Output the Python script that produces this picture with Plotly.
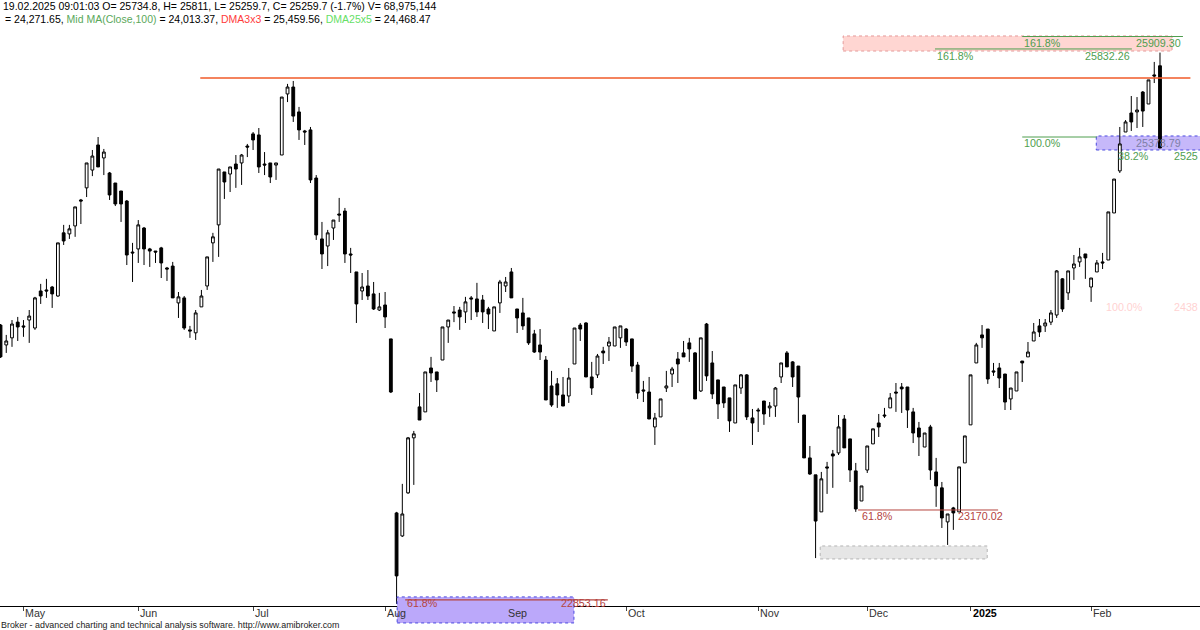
import plotly.graph_objects as go

# daily bars, end of April 2024 .. 19.02.2025 (index = trading day)
opens = [24236, 24121, 24162, 24253, 24231, 24265, 24219, 24433, 24439, 24456,
         24404, 24769, 24763, 24809, 24959, 25029, 25132, 25277, 25202, 25115,
         25057, 25011, 24953, 24658, 24676, 24797, 24676, 24664, 24682, 24566,
         24577, 24364, 24393, 24208, 24191, 24341, 24462, 24711, 24815, 25121,
         25109, 25167, 25173, 25271, 25341, 25335, 25167, 25173, 25161, 25219,
         25572, 25612, 25468, 25358, 25364, 25086, 24734, 24693, 24797, 24878,
         24895, 24647, 24543, 24433, 24462, 24416, 24323, 24352, 24156, 23150,
         23017, 23266, 23584, 23763, 23734, 23988, 23965, 24034, 24225, 24312,
         24323, 24312, 24393, 24387, 24381, 24329, 24202, 24364, 24462, 24543,
         24329, 24306, 24277, 24185, 24121, 24034, 23884, 23896, 23832, 23826,
         24011, 24236, 24248, 23936, 23948, 24086, 24115, 24115, 24162, 24213,
         24156, 24005, 23861, 23849, 23647, 23705, 23872, 23953, 24040, 24075,
         24133, 24075, 23855, 24242, 24017, 23919, 23878, 23815, 23670, 23872,
         23948, 23699, 23745, 23797, 23757, 23768, 23936, 24075, 24023, 23999,
         23716, 23468, 23370, 23156, 23416, 23491, 23497, 23693, 23578, 23393,
         23219, 23398, 23549, 23670, 23716, 23757, 23849, 23878, 23878, 23734,
         23641, 23531, 23647, 23387, 23295, 23098, 23179, 23156, 23439, 23659,
         24017, 24179, 24213, 23971, 23988, 23953, 23809, 23855, 24028, 24052,
         24144, 24231, 24231, 24253, 24294, 24503, 24422, 24566, 24601, 24647,
         24456, 24543, 24601, 24612, 24884, 25127, 25352, 25462, 25468, 25583,
         25514, 25682, 25734.8]
highs = [24242, 24179, 24265, 24283, 24265, 24323, 24399, 24474, 24503, 24462,
         24711, 24815, 24815, 24919, 24965, 25173, 25248, 25323, 25254, 25121,
         25057, 25011, 24959, 24711, 24843, 24803, 24682, 24664, 24688, 24572,
         24601, 24427, 24404, 24231, 24323, 24439, 24630, 24769, 25138, 25121,
         25150, 25219, 25225, 25283, 25352, 25375, 25236, 25173, 25173, 25554,
         25630, 25647, 25497, 25364, 25381, 25103, 24832, 24786, 24843, 24971,
         24913, 24682, 24543, 24537, 24554, 24485, 24422, 24427, 24156, 23156,
         23318, 23589, 23624, 23843, 23965, 24052, 23965, 24225, 24265, 24346,
         24341, 24399, 24404, 24480, 24410, 24341, 24341, 24497, 24514, 24566,
         24329, 24393, 24277, 24208, 24213, 24057, 23971, 23930, 23936, 23988,
         24219, 24248, 24253, 24023, 24069, 24110, 24167, 24225, 24231, 24219,
         24156, 24023, 23913, 23936, 23728, 23809, 23971, 23994, 24080, 24144,
         24162, 24080, 24162, 24248, 24086, 23919, 23878, 23815, 23890, 23953,
         23953, 23751, 23757, 23797, 23791, 23878, 24017, 24086, 24028, 23999,
         23716, 23537, 23370, 23387, 23445, 23514, 23716, 23716, 23578, 23439,
         23306, 23537, 23636, 23722, 23757, 23843, 23901, 23901, 23878, 23757,
         23676, 23612, 23659, 23468, 23329, 23144, 23185, 23416, 23595, 23948,
         24133, 24236, 24213, 24017, 24017, 23953, 23872, 23965, 24028, 24138,
         24248, 24271, 24271, 24323, 24554, 24508, 24549, 24641, 24682, 24647,
         24508, 24612, 24653, 24890, 25080, 25381, 25421, 25560, 25554, 25589,
         25653, 25757, 25811]
lows = [24046, 24075, 24110, 24144, 24168, 24133, 24208, 24358, 24393, 24335,
        24399, 24699, 24734, 24746, 24820, 24976, 25097, 25150, 25103, 24959,
        24924, 24832, 24583, 24485, 24595, 24583, 24572, 24595, 24508, 24491,
        24393, 24277, 24208, 24162, 24150, 24341, 24439, 24601, 24630, 24965,
        25005, 25029, 25046, 25207, 25248, 25115, 25103, 25057, 25075, 25219,
        25525, 25410, 25306, 25277, 25057, 24728, 24560, 24577, 24728, 24832,
        24595, 24537, 24248, 24381, 24381, 24323, 24317, 24219, 23843, 22624,
        23011, 23260, 23312, 23687, 23734, 23907, 23849, 24034, 24133, 24253,
        24208, 24248, 24265, 24283, 24248, 24213, 24202, 24306, 24427, 24393,
        24190, 24208, 24121, 24075, 24034, 23803, 23763, 23757, 23768, 23786,
        24011, 24144, 23936, 23832, 23930, 24011, 24028, 24115, 24104, 24115,
        23965, 23809, 23791, 23693, 23543, 23705, 23849, 23878, 23901, 24052,
        24023, 23809, 23849, 23913, 23809, 23693, 23757, 23618, 23670, 23838,
        23687, 23543, 23618, 23659, 23705, 23705, 23901, 23994, 23878, 23670,
        23468, 23370, 22889, 23156, 23260, 23295, 23485, 23526, 23329, 23156,
        23219, 23381, 23549, 23589, 23699, 23757, 23734, 23728, 23641, 23554,
        23479, 23531, 23341, 23185, 23063, 22965, 23052, 23156, 23439, 23659,
        24017, 24104, 23896, 23942, 23872, 23745, 23745, 23855, 23907, 24052,
        24144, 24167, 24196, 24236, 24277, 24312, 24381, 24497, 24572, 24503,
        24370, 24543, 24560, 24612, 24884, 25115, 25352, 25358, 25375, 25381,
        25514, 25635, 25259.7]
closes = [24052, 24144, 24242, 24225, 24225, 24288, 24393, 24404, 24433, 24416,
          24711, 24722, 24792, 24919, 24953, 25173, 25213, 25150, 25236, 24988,
          24936, 24936, 24641, 24653, 24815, 24676, 24664, 24658, 24595, 24560,
          24393, 24399, 24219, 24202, 24306, 24404, 24630, 24746, 25138, 25063,
          25150, 25138, 25219, 25265, 25306, 25150, 25161, 25092, 25173, 25554,
          25612, 25444, 25364, 25352, 25075, 24757, 24647, 24769, 24843, 24872,
          24647, 24641, 24358, 24456, 24404, 24329, 24341, 24283, 23849, 22786,
          23144, 23584, 23607, 23687, 23965, 23959, 23919, 24225, 24265, 24306,
          24283, 24370, 24387, 24312, 24312, 24300, 24341, 24485, 24485, 24393,
          24277, 24231, 24133, 24080, 24080, 23803, 23774, 23832, 23768, 23930,
          24219, 24213, 23936, 23872, 24057, 24075, 24138, 24225, 24231, 24138,
          23999, 23843, 23855, 23693, 23699, 23809, 23884, 23982, 24011, 24052,
          24098, 23809, 24162, 23942, 23838, 23780, 23786, 23682, 23890, 23948,
          23705, 23670, 23740, 23722, 23768, 23872, 24017, 23994, 23936, 23820,
          23468, 23375, 23103, 23347, 23410, 23479, 23647, 23526, 23398, 23173,
          23306, 23537, 23636, 23647, 23711, 23815, 23843, 23867, 23745, 23612,
          23589, 23612, 23398, 23306, 23121, 23144, 23150, 23416, 23595, 23948,
          24121, 24162, 23924, 23965, 23930, 23791, 23872, 23965, 24017, 24080,
          24196, 24196, 24248, 24306, 24549, 24329, 24549, 24589, 24630, 24624,
          24508, 24595, 24595, 24890, 25080, 25283, 25410, 25410, 25479, 25473,
          25653, 25676, 25259.7]

month_idx = [4, 24, 44, 67, 88, 109, 132, 151, 169, 190]
month_txt = ['May', 'Jun', 'Jul', 'Aug', 'Sep', 'Oct', 'Nov', 'Dec', '2025', 'Feb']

# drawn levels / zones (price)
resist_level = 25664
pink_zone = [25820, 25907]
fib_1618_hi = 25904
fib_1618_lo = 25832
blue_zone = [25248, 25329]
fib_100 = 25323
fib_dec = 23167
gray_zone = [22884, 22959]
fib_aug = 22647

FONT = 'Liberation Sans'
GREEN = '#4f9e4f'
BROWN = '#b5443f'

x = list(range(len(opens)))

fig = go.Figure(go.Candlestick(
    x=x, open=opens, high=highs, low=lows, close=closes,
    increasing=dict(line=dict(color='black', width=1), fillcolor='white'),
    decreasing=dict(line=dict(color='black', width=1), fillcolor='black'),
    whiskerwidth=0, hoverinfo='skip',
))

shapes = [
    # zones
    dict(type='rect', x0=146.8, x1=204.1, y0=pink_zone[0], y1=pink_zone[1],
         fillcolor='#ffd6d2', line=dict(color='#e59a9a', width=1, dash='dot'), layer='below'),
    dict(type='rect', x0=190.9, x1=210, y0=blue_zone[0], y1=blue_zone[1],
         fillcolor='#c6b8fa', line=dict(color='#4a4adf', width=1, dash='dot'), layer='below'),
    dict(type='rect', x0=142.8, x1=171.9, y0=gray_zone[0], y1=gray_zone[1],
         fillcolor='#e6e6e6', line=dict(color='#b4b4b4', width=1, dash='dot'), layer='below'),
    dict(type='rect', xref='x', yref='paper', x0=69.1, x1=99.9, y0=-0.028, y1=0.015,
         fillcolor='#bba8fa', line=dict(color='#4a4adf', width=1, dash='dot'), layer='above'),
    # lines
    dict(type='line', x0=34.8, x1=207.3, y0=resist_level, y1=resist_level,
         line=dict(color='#f05a28', width=1.3)),
    dict(type='line', x0=178.0, x1=206.0, y0=fib_1618_hi, y1=fib_1618_hi,
         line=dict(color=GREEN, width=1)),
    dict(type='line', x0=162.8, x1=197.1, y0=fib_1618_lo, y1=fib_1618_lo,
         line=dict(color=GREEN, width=1)),
    dict(type='line', x0=178.0, x1=191.0, y0=fib_100, y1=fib_100,
         line=dict(color=GREEN, width=1)),
    dict(type='line', x0=149.4, x1=173.8, y0=fib_dec, y1=fib_dec,
         line=dict(color=BROWN, width=1)),
    dict(type='line', x0=70.5, x1=105.8, y0=fib_aug, y1=fib_aug,
         line=dict(color=BROWN, width=1.3)),
]


def lab(xv, yv, text, color, anchor='left', size=10.7):
    return dict(x=xv, y=yv, xref='x', yref='y', text=text, showarrow=False,
                xanchor=anchor, yanchor='middle',
                font=dict(family=FONT, size=size, color=color))


annotations = [
    lab(178.0, 25866, '161.8%', GREEN),
    lab(206.0, 25866, '25909.30', GREEN, 'right'),
    lab(162.8, 25791, '161.8%', GREEN),
    lab(197.1, 25791, '25832.26', GREEN, 'right'),
    lab(178.0, 25288, '100.0%', GREEN),
    lab(206.0, 25288, '25378.79', '#7d7fa6', 'right'),
    lab(194.4, 25213, '38.2%', GREEN),
    lab(208.9, 25213, '2525', GREEN, 'right'),
    lab(192.2, 24341, '100.0%', '#ffd2d2'),
    lab(208.9, 24341, '2438', '#ffd2d2', 'right'),
    lab(149.8, 23133, '61.8%', BROWN),
    lab(166.4, 23133, '23170.02', BROWN),
    lab(70.5, 22630, '61.8%', BROWN),
    lab(105.9, 22630, '22853.16', BROWN, 'right'),
]

# month labels, left aligned at the tick
for mi, mt in zip(month_idx, month_txt):
    bold = mt == '2025'
    annotations.append(dict(
        x=mi, y=-0.0115, xref='x', yref='paper', xanchor='left', yanchor='middle',
        xshift=0, showarrow=False,
        text='<b>%s</b>' % mt if bold else mt,
        font=dict(family=FONT, size=10.7, color='black' if bold else '#333333')))

head1 = ('19.02.2025 09:01:03 O= 25734.8, H= 25811, L= 25259.7, '
         'C= 25259.7 (-1.7%) V= 68,975,144')
head2 = ('= 24,271.65, <span style="color:#5aa85a">Mid MA(Close,100)</span> = 24,013.37, '
         '<span style="color:#ff3b3b">DMA3x3</span> = 25,459.56, '
         '<span style="color:#66e066">DMA25x5</span> = 24,468.47')
annotations += [
    dict(x=0, y=0.9901, xref='paper', yref='paper', text=head1, showarrow=False,
         xanchor='left', yanchor='middle', xshift=1,
         font=dict(family=FONT, size=10.5, color='black')),
    dict(x=0, y=0.9686, xref='paper', yref='paper', text=head2, showarrow=False,
         xanchor='left', yanchor='middle', xshift=3,
         font=dict(family=FONT, size=10.5, color='black')),
    dict(x=0, y=-0.0314, xref='paper', yref='paper',
         text='Broker - advanced charting and technical analysis software. http://www.amibroker.com',
         showarrow=False, xanchor='left', yanchor='middle', xshift=-1,
         font=dict(family=FONT, size=8.9, color='#222222')),
]

fig.update_layout(
    width=1200, height=630,
    margin=dict(l=0, r=0, t=0, b=24),
    paper_bgcolor='white', plot_bgcolor='white',
    showlegend=False,
    shapes=shapes,
    annotations=annotations,
    xaxis=dict(
        range=[-0.09, 208.97],
        rangeslider=dict(visible=False),
        showgrid=False, zeroline=False,
        showline=True, linecolor='black', linewidth=1,
        tickmode='array', tickvals=month_idx, ticktext=[''] * len(month_idx),
        ticks='outside', ticklen=4, tickcolor='#444444', tickwidth=1,
        showticklabels=False,
    ),
    yaxis=dict(range=[22612, 26115], visible=False, showgrid=False, zeroline=False),
)

# page body has a default margin; drop it so the figure sits at the corner
fig.write_html("out.html", config={'displayModeBar': False},
               post_script="document.body.style.margin='0px';")
